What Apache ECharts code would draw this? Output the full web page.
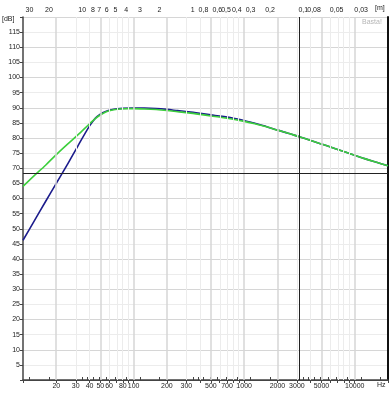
<!DOCTYPE html>
<html>
<head>
<meta charset="utf-8">
<script src="https://cdn.jsdelivr.net/npm/echarts@6/dist/echarts.min.js"></script>
<style>
  html, body { margin: 0; padding: 0; background: #fff; }
  #chart { width: 390px; height: 400px; }
</style>
</head>
<body>
<div id="chart"></div>
<script>
// frequency response, two curves (dB vs Hz)
const freqs = [10, 12.5, 16, 20, 25, 31.5, 40, 45, 50, 56, 63, 71, 80, 100, 125, 160, 200, 250, 315, 400, 500, 630, 800,
  1000, 1250, 1600, 2000, 2500, 3150, 4000, 5000, 6300, 8000, 10000, 12500, 16000, 20000];
const greenDb = [64.0, 67.4, 71.0, 74.5, 77.8, 81.1, 84.7, 86.4, 87.6, 88.6, 89.2, 89.5, 89.65, 89.7, 89.6, 89.4, 89.1, 88.7, 88.3, 87.8, 87.3, 86.8, 86.2,
  85.5, 84.7, 83.7, 82.6, 81.6, 80.4, 79.2, 78.0, 76.8, 75.5, 74.3, 73.1, 71.9, 70.8];
const blueDb = [46.2, 52.3, 59.0, 65.0, 71.0, 77.5, 84.0, 86.5, 87.9, 88.8, 89.35, 89.65, 89.8, 89.9, 89.9, 89.75, 89.45, 89.05, 88.65, 88.15, 87.65, 87.15, 86.55,
  85.8, 84.85, 83.75, 82.6, 81.6, 80.4, 79.2, 78.0, 76.8, 75.5, 74.3, 73.1, 71.9, 70.8];

// axis ticks / labels
const hzTicks = [10, 20, 30, 40, 50, 60, 70, 80, 90, 100, 200, 300, 400, 500, 600, 700, 800, 900,
  1000, 2000, 3000, 4000, 5000, 6000, 7000, 8000, 9000, 10000, 20000];
const hzLabels = [20, 30, 40, 50, 60, 80, 100, 200, 300, 500, 700, 1000, 2000, 3000, 5000, 10000];
const mTicks = [30, 20, 10, 9, 8, 7, 6, 5, 4, 3, 2, 1, 0.9, 0.8, 0.7, 0.6, 0.5, 0.4, 0.3, 0.2,
  0.1, 0.09, 0.08, 0.07, 0.06, 0.05, 0.04, 0.03, 0.02];
const mLabels = [30, 20, 10, 8, 7, 6, 5, 4, 3, 2, 1, 0.8, 0.6, 0.5, 0.4, 0.3, 0.2, 0.1, 0.08, 0.05, 0.03];
const gridMajorHz = [20, 50, 100, 200, 500, 1000, 2000, 5000, 10000];
const gridMinorHz = [30, 40, 60, 70, 80, 90, 300, 400, 600, 700, 800, 900, 3000, 4000, 6000, 7000, 8000, 9000];
const markerHz = 3150;
const markerDb = 68.2;
const soundSpeed = 343;

const lg = v => Math.log10(v);
const fMin = 10, fMax = 20000;
const labelFont = { fontFamily: 'Liberation Sans, Arial, sans-serif', fontSize: 7, color: '#222' };
const smallFont = '7px Liberation Sans, Arial, sans-serif';

const chart = echarts.init(document.getElementById('chart'), null, { renderer: 'canvas' });

const option = {
  animation: false,
  backgroundColor: '#fff',
  grid: { left: 23, right: 2, top: 17, bottom: 20, containLabel: false },
  xAxis: [
    {
      type: 'value',
      min: lg(fMin),
      max: lg(fMax),
      position: 'bottom',
      axisLine: { show: true, lineStyle: { color: '#444', width: 1.5 } },
      axisTick: { show: true, length: 3, customValues: hzTicks.map(lg), lineStyle: { color: '#444' } },
      axisLabel: {
        ...labelFont,
        margin: 3,
        customValues: hzLabels.map(lg),
        formatter: v => String(Math.round(Math.pow(10, v)))
      },
      splitLine: { show: false }
    },
    {
      type: 'value',
      min: lg(fMin),
      max: lg(fMax),
      position: 'top',
      axisLine: { show: true, lineStyle: { color: '#444', width: 1 } },
      axisTick: { show: true, length: 3, customValues: mTicks.map(m => lg(soundSpeed / m)), lineStyle: { color: '#444' } },
      axisLabel: {
        ...labelFont,
        margin: 3,
        customValues: mLabels.map(m => lg(soundSpeed / m)),
        formatter: v => {
          const m = soundSpeed / Math.pow(10, v);
          return String(parseFloat(m.toPrecision(2))).replace('.', ',');
        }
      },
      splitLine: { show: false }
    }
  ],
  yAxis: [
    {
      type: 'value',
      min: 0,
      max: 120,
      interval: 5,
      axisLine: { show: true, lineStyle: { color: '#444', width: 1.5 } },
      axisTick: { show: true, length: 3, lineStyle: { color: '#444' } },
      axisLabel: {
        ...labelFont,
        margin: 3,
        formatter: v => (v === 0 || v === 120) ? '' : String(v)
      },
      splitLine: { show: true, lineStyle: { color: ['#d6d6d6', '#ececec'], width: 1 } }
    },
    {
      type: 'value',
      min: 0,
      max: 120,
      position: 'right',
      axisLine: { show: true, lineStyle: { color: '#111', width: 2 } },
      axisTick: { show: false },
      axisLabel: { show: false },
      splitLine: { show: false }
    }
  ],
  graphic: [
    { type: 'text', left: 2, top: 16, style: { text: '[dB]', fill: '#222', font: smallFont } },
    { type: 'text', left: 375, top: 5, style: { text: '[m]', fill: '#222', font: smallFont } },
    { type: 'text', left: 377, top: 382, style: { text: 'Hz', fill: '#222', font: smallFont } },
    { type: 'text', left: 362, top: 19, style: { text: 'Basta!', fill: '#b5b5b5', font: smallFont } }
  ],
  series: [
    {
      name: 'grid',
      type: 'line',
      data: [],
      z: 1,
      silent: true,
      markLine: {
        silent: true,
        symbol: 'none',
        label: { show: false },
        animation: false,
        data: [
          ...gridMinorHz.map(f => ({ xAxis: lg(f), lineStyle: { color: '#ececec', width: 1, type: 'solid' } })),
          ...gridMajorHz.map(f => ({ xAxis: lg(f), lineStyle: { color: '#d6d6d6', width: 1.5, type: 'solid' } }))
        ]
      }
    },
    {
      name: 'markers',
      type: 'line',
      data: [],
      z: 2,
      silent: true,
      markLine: {
        silent: true,
        symbol: 'none',
        label: { show: false },
        animation: false,
        lineStyle: { color: '#222', width: 1, type: 'solid' },
        data: [{ xAxis: lg(markerHz) }, { yAxis: markerDb }]
      }
    },
    {
      name: 'blue',
      type: 'line',
      smooth: 0.3,
      showSymbol: false,
      z: 3,
      lineStyle: { color: '#1c1c8c', width: 1.6 },
      data: freqs.map((f, i) => [lg(f), blueDb[i]])
    },
    {
      name: 'green',
      type: 'line',
      smooth: 0.3,
      showSymbol: false,
      z: 4,
      lineStyle: { color: '#3ccf3c', width: 1.6 },
      data: freqs.map((f, i) => [lg(f), greenDb[i]])
    }
  ]
};

chart.setOption(option);
</script>
</body>
</html>
